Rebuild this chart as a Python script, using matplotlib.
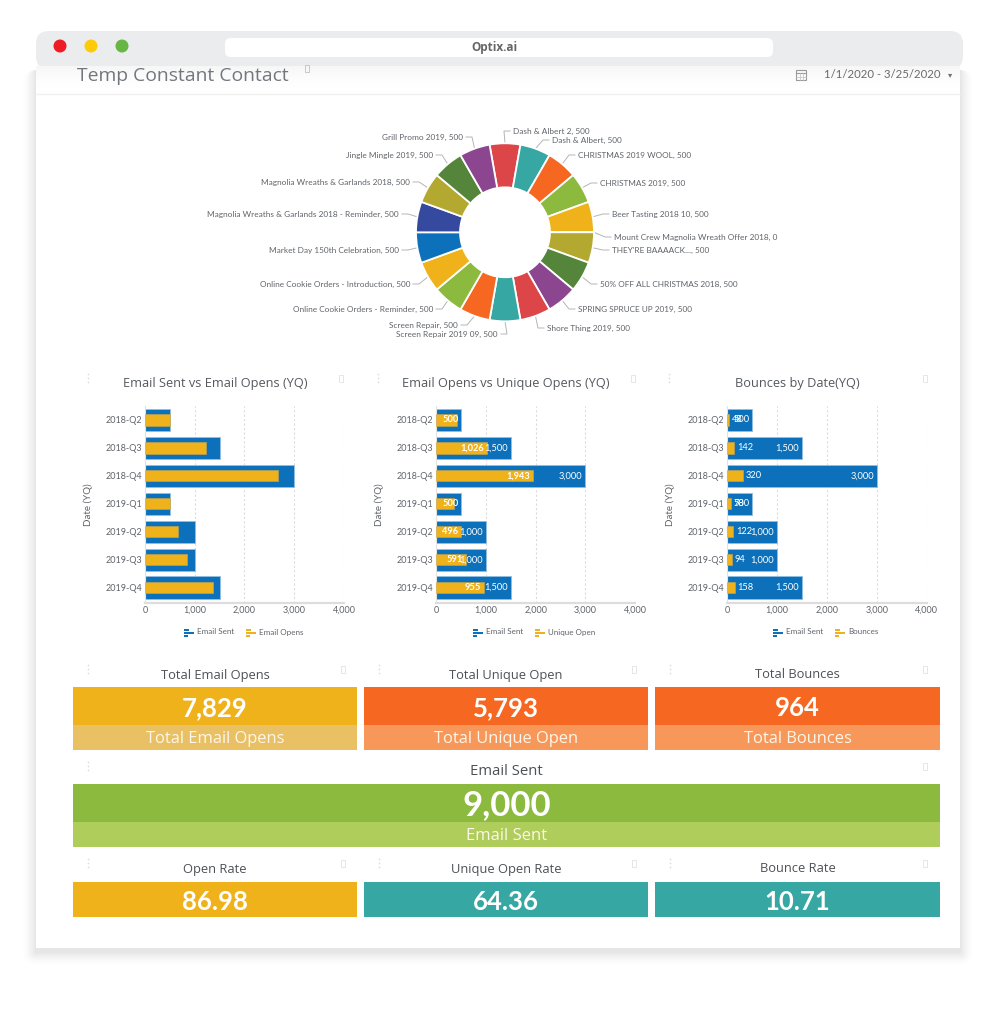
import math

import matplotlib

matplotlib.use("Agg")
import matplotlib.pyplot as plt
from matplotlib.patches import Circle, FancyBboxPatch, Rectangle

W, H = 993, 1024

# donut data, clockwise from the top
campaigns = [
    "Dash & Albert 2", "Dash & Albert", "CHRISTMAS 2019 WOOL", "CHRISTMAS 2019",
    "Beer Tasting 2018 10", "Mount Crew Magnolia Wreath Offer 2018", "THEY'RE BAAAACK...",
    "50% OFF ALL CHRISTMAS 2018", "SPRING SPRUCE UP 2019", "Shore Thing 2019",
    "Screen Repair 2019 09", "Screen Repair", "Online Cookie Orders - Reminder",
    "Online Cookie Orders - Introduction", "Market Day 150th Celebration",
    "Magnolia Wreaths & Garlands 2018 - Reminder", "Magnolia Wreaths & Garlands 2018",
    "Jingle Mingle 2019", "Grill Promo 2019",
]
campaign_sent = [500, 500, 500, 500, 500, 0, 500, 500, 500, 500, 500, 500, 500, 500, 500, 500, 500, 500, 500]

quarters = ["2018-Q2", "2018-Q3", "2018-Q4", "2019-Q1", "2019-Q2", "2019-Q3", "2019-Q4"]
email_sent = [500, 1500, 3000, 500, 1000, 1000, 1500]
email_opens = [500, 1220, 2680, 500, 660, 850, 1370]
unique_open = [425, 1026, 1943, 357, 496, 591, 955]
bounces = [48, 142, 320, 78, 122, 94, 158]

BLUE = "#0c71ba"
YELLOW = "#f0b21a"
ORANGE = "#f66722"
GREEN = "#8cba3e"
TEAL = "#36a7a3"
RED = "#dc4649"
PURPLE = "#8c4690"
DARK_GREEN = "#55853b"
OLIVE = "#b3a931"
INDIGO = "#354a9e"
GREY_TEXT = "#5f6369"

slice_colors = [
    RED, TEAL, ORANGE, GREEN, YELLOW, BLUE, OLIVE, DARK_GREEN, PURPLE, RED,
    TEAL, ORANGE, GREEN, YELLOW, BLUE, INDIGO, OLIVE, DARK_GREEN, PURPLE,
]

# where each donut label sits (pixels), and which side it is anchored on
label_spots = [
    (513, 131, "left"), (552, 140, "left"), (578, 155, "left"), (600, 183, "left"),
    (612, 214, "left"), (614, 237, "left"), (612, 250, "left"), (600, 284, "left"),
    (578, 309, "left"), (547, 328, "left"), (498, 334, "right"), (458, 325, "right"),
    (433, 309, "right"), (410, 284, "right"), (399, 250, "right"), (399, 214, "right"),
    (410, 182, "right"), (433, 155, "right"), (463, 137, "right"),
]


def px_axes(fig, left, top, right, bottom):
    return fig.add_axes([left / W, 1 - bottom / H, (right - left) / W, (bottom - top) / H])


def draw_chrome(bg):
    # soft shadow around the page, fading out and sitting a little low
    for grow in range(1, 15):
        bg.add_patch(FancyBboxPatch((36 - grow, 70), 924 + 2 * grow, 878 + grow + 4,
                                    boxstyle=f"round,pad=0,rounding_size={grow}",
                                    color="black", alpha=0.0018 * (15 - grow) ** 0.7, lw=0))
    bg.add_patch(FancyBboxPatch((36, 31), 927, 38, boxstyle="round,pad=0,rounding_size=13",
                                fc="#ebecee", lw=0))
    bg.add_patch(Rectangle((36, 66), 924, 882, fc="white", lw=0))
    for step in range(28):
        bg.add_patch(Rectangle((36, 66 + step), 924, 1, color="black",
                               alpha=0.035 * (1 - step / 28) ** 2, lw=0))
    for x, color in [(60, "#ee1c25"), (91, "#fdcb0a"), (122, "#66b644")]:
        bg.add_patch(Circle((x, 46), 6.5, fc=color, lw=0))
    bg.add_patch(FancyBboxPatch((225, 38), 548, 19, boxstyle="round,pad=0,rounding_size=6",
                                fc="white", lw=0))
    bg.text(494, 47.5, "Optix.ai", ha="center", va="center", family="Open Sans",
            weight="bold", fontsize=8.5, color="#666666")
    bg.text(77, 76, "Temp Constant Contact", ha="left", va="center", family="Open Sans",
            fontsize=13.9, color="#72777d")
    bg.plot([36, 960], [94, 94], color="#f0f0f0", lw=1)
    bg.add_patch(Rectangle((796, 70), 10, 10, fc="none", ec="#9a9a9a", lw=0.8))
    bg.plot([796, 806], [73, 73], color="#9a9a9a", lw=0.8)
    bg.plot([799.5, 799.5], [73, 80], color="#c0c0c0", lw=0.5)
    bg.plot([802.5, 802.5], [73, 80], color="#c0c0c0", lw=0.5)
    bg.plot([796, 806], [76.5, 76.5], color="#c0c0c0", lw=0.5)
    bg.text(824, 74.5, "1/1/2020 - 3/25/2020", ha="left", va="center", family="Lato",
            fontsize=8.2, color="#6a6a6a")
    bg.text(950, 75, "▾", ha="center", va="center", fontsize=6, color="#707070")
    bg.add_patch(Rectangle((305, 65), 4, 7, fc="none", ec="#c8c8c8", lw=0.7))


def draw_handles(bg, dot_x, lock_x, y):
    bg.scatter([dot_x] * 3, [y - 4, y, y + 4], s=1.5, color="#dddddd", lw=0)
    bg.add_patch(Rectangle((lock_x - 2, y - 3), 4, 7, fc="none", ec="#e6e6e6", lw=0.7))


def draw_donut(fig, bg):
    cx, cy, r = 505, 232.3, 89
    ax = px_axes(fig, cx - r, cy - r, cx + r, cy + r)
    wedges, _ = ax.pie(campaign_sent, colors=slice_colors, startangle=100, counterclock=False,
                       radius=1, wedgeprops={"width": 0.495, "edgecolor": "white", "linewidth": 1.3})
    ax.set_xlim(-1, 1)
    ax.set_ylim(-1, 1)
    for wedge, name, value, (x, y, side) in zip(wedges, campaigns, campaign_sent, label_spots):
        angle = math.radians((wedge.theta1 + wedge.theta2) / 2)
        start_x = cx + r * math.cos(angle)
        start_y = cy - r * math.sin(angle)
        end_x = x - 3 if side == "left" else x + 3
        mid_x = end_x - 6 if side == "left" else end_x + 6
        bg.plot([start_x, mid_x, end_x], [start_y, y, y], color="#b5b5b5", lw=0.7)
        bg.text(x, y, f"{name}, {value}", ha=side, va="center", family="Lato",
                fontsize=5.95, color="#5f6368")


def draw_bars(fig, bg, left, right, title, series_name, series, label_mode, title_x, legend_xs):
    ax = px_axes(fig, left, 406, right, 603)
    ax.patch.set_alpha(0)
    y = list(range(len(quarters)))
    ax.barh(y, email_sent, height=0.8, color=BLUE, edgecolor="#8fc0e2", linewidth=0.6, zorder=2)
    ax.barh(y, series, height=0.4, color=YELLOW, edgecolor="#c9a64a", linewidth=0.4, zorder=3)
    ax.set_xlim(0, 4000)
    ax.set_ylim(6.55, -0.5)
    ax.set_yticks(y, quarters)
    ax.set_xticks([0, 1000, 2000, 3000, 4000], ["0", "1,000", "2,000", "3,000", "4,000"])
    ax.tick_params(length=0, labelsize=6.5, labelcolor=GREY_TEXT, pad=2)
    for tick in ax.get_xticklabels() + ax.get_yticklabels():
        tick.set_family("Lato")
    ax.grid(axis="x", color="#dcdcdc", linestyle=(0, (2, 2)), linewidth=0.8, zorder=1)
    ax.set_axisbelow(True)
    for side in ["top", "right"]:
        ax.spines[side].set_visible(False)
    ax.spines["left"].set_color("#e3e3e3")
    ax.spines["bottom"].set_color("#dddddd")
    ax.spines["bottom"].set_linewidth(1.6)
    bg.text(left - 57, 505, "Date (YQ)", rotation=90, ha="center", va="center", family="Lato",
            fontsize=7, color=GREY_TEXT)
    bg.text(title_x, 383, title, ha="center", va="center", family="Open Sans", fontsize=9.2,
            color="#55595e")
    if label_mode:
        for row, (sent, value) in enumerate(zip(email_sent, series)):
            # in the inside panel the two shortest bars only show the sent label
            hidden = label_mode == "inside" and row in (0, 3)
            ax.annotate(f"{sent:,}", (sent, row), xytext=(-2, 0), textcoords="offset points",
                        ha="right", va="center", family="Lato", fontsize=6.7, color="white",
                        weight="bold" if hidden else "normal", zorder=5)
            if hidden:
                continue
            if label_mode == "inside":
                ax.annotate(f"{value:,}", (value, row), xytext=(-2, 0), textcoords="offset points",
                            ha="right", va="center", family="Lato", weight="bold", fontsize=6.7,
                            color="white", zorder=5)
            else:
                ax.annotate(f"{value:,}", (value, row), xytext=(2, 0), textcoords="offset points",
                            ha="left", va="center", family="Lato", fontsize=6.7,
                            color="white", zorder=5)
    # legend
    for x, color, text in zip(legend_xs, [BLUE, YELLOW], ["Email Sent", series_name]):
        bg.add_patch(Rectangle((x, 628.5), 5, 2.5, fc=color, lw=0))
        bg.add_patch(Rectangle((x, 631.5), 10, 2.5, fc=color, lw=0))
        bg.add_patch(Rectangle((x, 634.5), 4, 2.5, fc=color, lw=0))
        bg.text(x + 13, 632, text, ha="left", va="center", family="Lato", fontsize=5.8,
                color=GREY_TEXT)
    return ax


def draw_card(bg, left, right, top, split, bottom, main, light, value, caption, title, title_y, size,
              title_size=9.3, caption_size=11.9):
    mid = (left + right) / 2
    bg.add_patch(Rectangle((left, top), right - left, split - top, fc=main, lw=0))
    if light:
        bg.add_patch(Rectangle((left, split), right - left, bottom - split, fc=light, lw=0))
        bg.text(mid, (split + bottom) / 2 + 1.5, caption, ha="center", va="center",
                family="Open Sans", fontsize=caption_size, color="#fdf6e8")
    bg.text(mid, (top + split) / 2 + 2.5, value, ha="center", va="center",
            family="Lato", weight="bold", fontsize=size, color="white")
    bg.text(mid, title_y, title, ha="center", va="center", family="Open Sans",
            fontsize=title_size, color="#4d5156")


def main():
    fig = plt.figure(figsize=(W / 100, H / 100), dpi=100, facecolor="white")
    bg = fig.add_axes([0, 0, 1, 1])
    bg.set_xlim(0, W)
    bg.set_ylim(H, 0)
    bg.axis("off")
    bg.set_zorder(0)

    draw_chrome(bg)
    draw_donut(fig, bg)

    draw_bars(fig, bg, 145, 344, "Email Sent vs Email Opens (YQ)", "Email Opens", email_opens, None, 215, (184, 246))
    draw_bars(fig, bg, 436.3, 635, "Email Opens vs Unique Opens (YQ)", "Unique Open", unique_open, "inside", 506, (473, 535))
    draw_bars(fig, bg, 727, 926.7, "Bounces by Date(YQ)", "Bounces", bounces, "outside", 797, (773, 835))

    for dot_x, lock_x in [(88, 341), (378, 633), (669, 925)]:
        draw_handles(bg, dot_x, lock_x, 378)
    for dot_x, lock_x in [(88, 343), (379, 634), (670, 925)]:
        draw_handles(bg, dot_x, lock_x, 669)
        draw_handles(bg, dot_x, lock_x, 863)
    draw_handles(bg, 88, 925, 766)

    light_yellow, light_orange, light_green = "#e9c164", "#f7985a", "#aecd5a"
    draw_card(bg, 73, 357, 687, 725, 750, YELLOW, light_yellow, "7,829", "Total Email Opens", "Total Email Opens", 675, 18.5)
    draw_card(bg, 364, 648, 687, 725, 750, ORANGE, light_orange, "5,793", "Total Unique Open", "Total Unique Open", 675, 18.5)
    draw_card(bg, 655, 940, 687, 725, 750, ORANGE, light_orange, "964", "Total Bounces", "Total Bounces", 675, 18.5)
    draw_card(bg, 73, 940, 784, 822, 847, GREEN, light_green, "9,000", "Email Sent", "Email Sent", 771.5, 25,
              title_size=10.7, caption_size=12)
    draw_card(bg, 73, 357, 882, 917, 917, YELLOW, None, "86.98", "", "Open Rate", 869, 18.5)
    draw_card(bg, 364, 648, 882, 917, 917, TEAL, None, "64.36", "", "Unique Open Rate", 869, 18.5)
    draw_card(bg, 655, 940, 882, 917, 917, TEAL, None, "10.71", "", "Bounce Rate", 869, 18.5)

    fig.savefig("out.png", dpi=100)
    plt.close(fig)


if __name__ == "__main__":
    main()
